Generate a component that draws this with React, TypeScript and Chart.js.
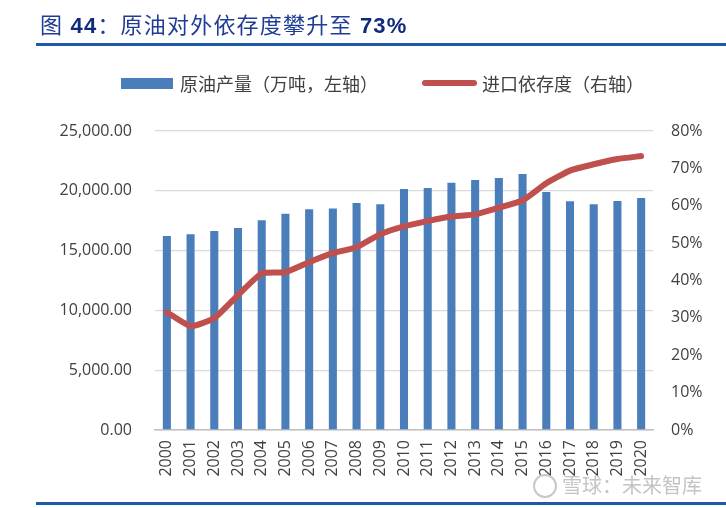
import React, { useEffect, useRef } from "react";
import { Chart, registerables } from "chart.js";

Chart.register(...registerables);

const years = ["2000","2001","2002","2003","2004","2005","2006","2007","2008","2009","2010","2011","2012","2013","2014","2015","2016","2017","2018","2019","2020"];
const production = [16221, 16370, 16640, 16890, 17530, 18090, 18450, 18530, 18980, 18870, 20150, 20230, 20680, 20900, 21070, 21400, 19900, 19120, 18870, 19150, 19400];
const dependency = [31.5, 27.8, 29.9, 36.1, 41.9, 42.2, 44.9, 47.3, 48.9, 52.4, 54.5, 55.9, 57.1, 57.7, 59.5, 61.4, 66.0, 69.4, 71.1, 72.5, 73.3];
const leftTicks = { min: 0, max: 25000, step: 5000 };
const rightTicks = { min: 0, max: 80, step: 10 };

const BLUE = "#4a7ebb";
const RED = "#c0504d";
const TICK_COLOR = "#404040";
const FONT = "'Open Sans', 'Noto Sans CJK SC', sans-serif";

export default function App() {
  const ref = useRef<HTMLCanvasElement | null>(null);

  useEffect(() => {
    if (!ref.current) return;
    const chart = new Chart(ref.current, {
      type: "bar",
      data: {
        labels: years,
        datasets: [
          {
            type: "bar",
            label: "原油产量（万吨，左轴）",
            data: production,
            backgroundColor: BLUE,
            borderWidth: 0,
            barPercentage: 0.34,
            categoryPercentage: 1,
            yAxisID: "yL",
            order: 2,
          },
          {
            type: "line",
            label: "进口依存度（右轴）",
            data: dependency,
            borderColor: RED,
            backgroundColor: RED,
            borderWidth: 6,
            pointRadius: 0,
            tension: 0.15,
            borderCapStyle: "round",
            borderJoinStyle: "round",
            yAxisID: "yR",
            order: 1,
          },
        ],
      },
      options: {
        responsive: false,
        animation: false,
        layout: { padding: { left: 0, right: 0, top: 131, bottom: 0 } },
        plugins: {
          legend: { display: false },
          title: { display: false },
          tooltip: { enabled: false },
        },
        scales: {
          x: {
            grid: { display: false, drawTicks: false },
            border: { display: true, color: "#bfbfbf", width: 1.5 },
            ticks: {
              minRotation: 90,
              maxRotation: 90,
              padding: 10,
              color: TICK_COLOR,
              font: { family: FONT, size: 16 },
              autoSkip: false,
            },
            afterFit: (s: any) => { s.height = 78; },
          },
          yL: {
            position: "left",
            min: leftTicks.min,
            max: leftTicks.max,
            grid: { color: "#d9d9d9", lineWidth: 1.3, drawTicks: false },
            border: { display: false },
            ticks: {
              stepSize: leftTicks.step,
              padding: 23,
              color: TICK_COLOR,
              font: { family: FONT, size: 16 },
              callback: (v: any) =>
                Number(v).toLocaleString("en-US", { minimumFractionDigits: 2, maximumFractionDigits: 2 }),
            },
            afterFit: (s: any) => { s.width = 155; },
          },
          yR: {
            position: "right",
            min: rightTicks.min,
            max: rightTicks.max,
            grid: { display: false, drawTicks: false },
            border: { display: false },
            ticks: {
              stepSize: rightTicks.step,
              padding: 18,
              color: TICK_COLOR,
              font: { family: FONT, size: 16 },
              callback: (v: any) => `${v}%`,
            },
            afterFit: (s: any) => { s.width = 73; },
          },
        },
      },
    });
    return () => chart.destroy();
  }, []);

  const legendText: React.CSSProperties = {
    position: "absolute",
    top: 71,
    fontFamily: "'Noto Sans CJK SC', sans-serif",
    fontSize: 18,
    lineHeight: "24px",
    color: "#404040",
    whiteSpace: "nowrap",
  };

  return (
    <div style={{ position: "absolute", left: 0, top: 0, width: 726, height: 508, background: "#fff", overflow: "hidden" }}>
      <canvas ref={ref} width={726} height={508} style={{ position: "absolute", left: 0, top: 0 }} />
      <div
        style={{
          position: "absolute",
          left: 40,
          top: 14,
          fontSize: 22,
          lineHeight: "24px",
          letterSpacing: "1.2px",
          whiteSpace: "nowrap",
          color: "#1f3c96",
          fontFamily: "'Liberation Sans', 'Noto Sans CJK SC', sans-serif",
        }}
      >
        图 <span style={{ color: "#0f2a7c", fontWeight: "bold" }}>44</span>：原油对外依存度攀升至 <span style={{ color: "#0f2a7c", fontWeight: "bold" }}>73%</span>
      </div>
      <div style={{ position: "absolute", left: 36, top: 43, width: 690, height: 3, background: "#1f5aa8" }} />
      <div style={{ position: "absolute", left: 121, top: 78, width: 52, height: 11, background: BLUE }} />
      <div style={{ ...legendText, left: 180 }}>原油产量（万吨，左轴）</div>
      <div style={{ position: "absolute", left: 422, top: 80, width: 55, height: 6, borderRadius: 3, background: RED }} />
      <div style={{ ...legendText, left: 482 }}>进口依存度（右轴）</div>
      <div
        style={{
          position: "absolute",
          left: 533,
          top: 474,
          width: 20,
          height: 20,
          borderRadius: "50%",
          border: "2px solid #c8c8c8",
        }}
      />
      <div
        style={{
          position: "absolute",
          left: 562,
          top: 473,
          fontSize: 20,
          lineHeight: "24px",
          color: "#c4c4c4",
          fontFamily: "'Noto Sans CJK SC', sans-serif",
          whiteSpace: "nowrap",
        }}
      >
        雪球：未来智库
      </div>
      <div style={{ position: "absolute", left: 36, top: 502, width: 690, height: 3, background: "#1f5aa8" }} />
    </div>
  );
}
